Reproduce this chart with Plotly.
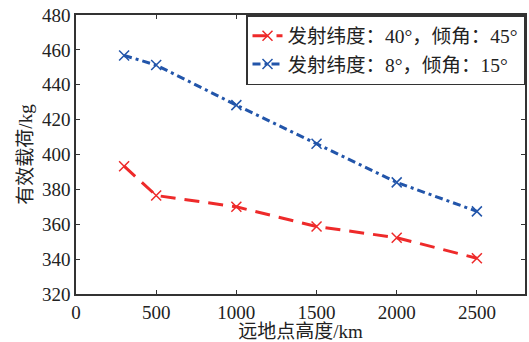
import plotly.graph_objects as go

altitude = [300, 500, 1000, 1500, 2000, 2500]
payload_40_45 = [393.3, 376.5, 370.0, 358.7, 352.3, 340.5]
payload_8_15 = [456.8, 451.3, 428.3, 406.2, 384.0, 367.4]
name_red = "发射纬度：40°，倾角：45°"
name_blue = "发射纬度：8°，倾角：15°"
x_ticks = [0, 500, 1000, 1500, 2000, 2500]
y_ticks = [320, 340, 360, 380, 400, 420, 440, 460, 480]

font_fam = "Liberation Serif, Noto Sans CJK SC, serif"

fig = go.Figure()
fig.add_trace(go.Scatter(
    x=altitude, y=payload_40_45, name=name_red, mode="lines+markers",
    line=dict(color="#ee2a2a", width=3, dash="15px,9px"),
    marker=dict(symbol="x-thin", size=10, line=dict(color="#ee2a2a", width=1.5)),
))
fig.add_trace(go.Scatter(
    x=altitude, y=payload_8_15, name=name_blue, mode="lines+markers",
    line=dict(color="#2255aa", width=3, dash="8px,4px,3px,4px"),
    marker=dict(symbol="x-thin", size=10, line=dict(color="#2255aa", width=1.5)),
))

axis_common = dict(
    showline=True, linecolor="#333333", linewidth=1.5, mirror="ticks",
    ticks="inside", ticklen=4, tickcolor="#333333", showgrid=False, zeroline=False,
    tickfont=dict(family=font_fam, size=19, color="#222222"),
)
fig.update_xaxes(range=[0, 2800], tickvals=x_ticks, **axis_common,
                 title=dict(text="远地点高度/km", font=dict(family=font_fam, size=19, color="#222222"), standoff=2))
fig.update_yaxes(range=[320, 480], tickvals=y_ticks, **axis_common,
                 title=dict(text="有效载荷/kg", font=dict(family=font_fam, size=19, color="#222222"), standoff=4))

fig.update_layout(
    width=529, height=342,
    margin=dict(l=76, r=2, t=15, b=48),
    paper_bgcolor="white", plot_bgcolor="white",
    legend=dict(x=1, y=1, xanchor="right", yanchor="top",
                bordercolor="#333333", borderwidth=1.5, bgcolor="white",
                font=dict(family=font_fam, size=19.5, color="#222222"),
                tracegroupgap=0, itemwidth=30),
    showlegend=True,
)
fig.write_html("out.html")
